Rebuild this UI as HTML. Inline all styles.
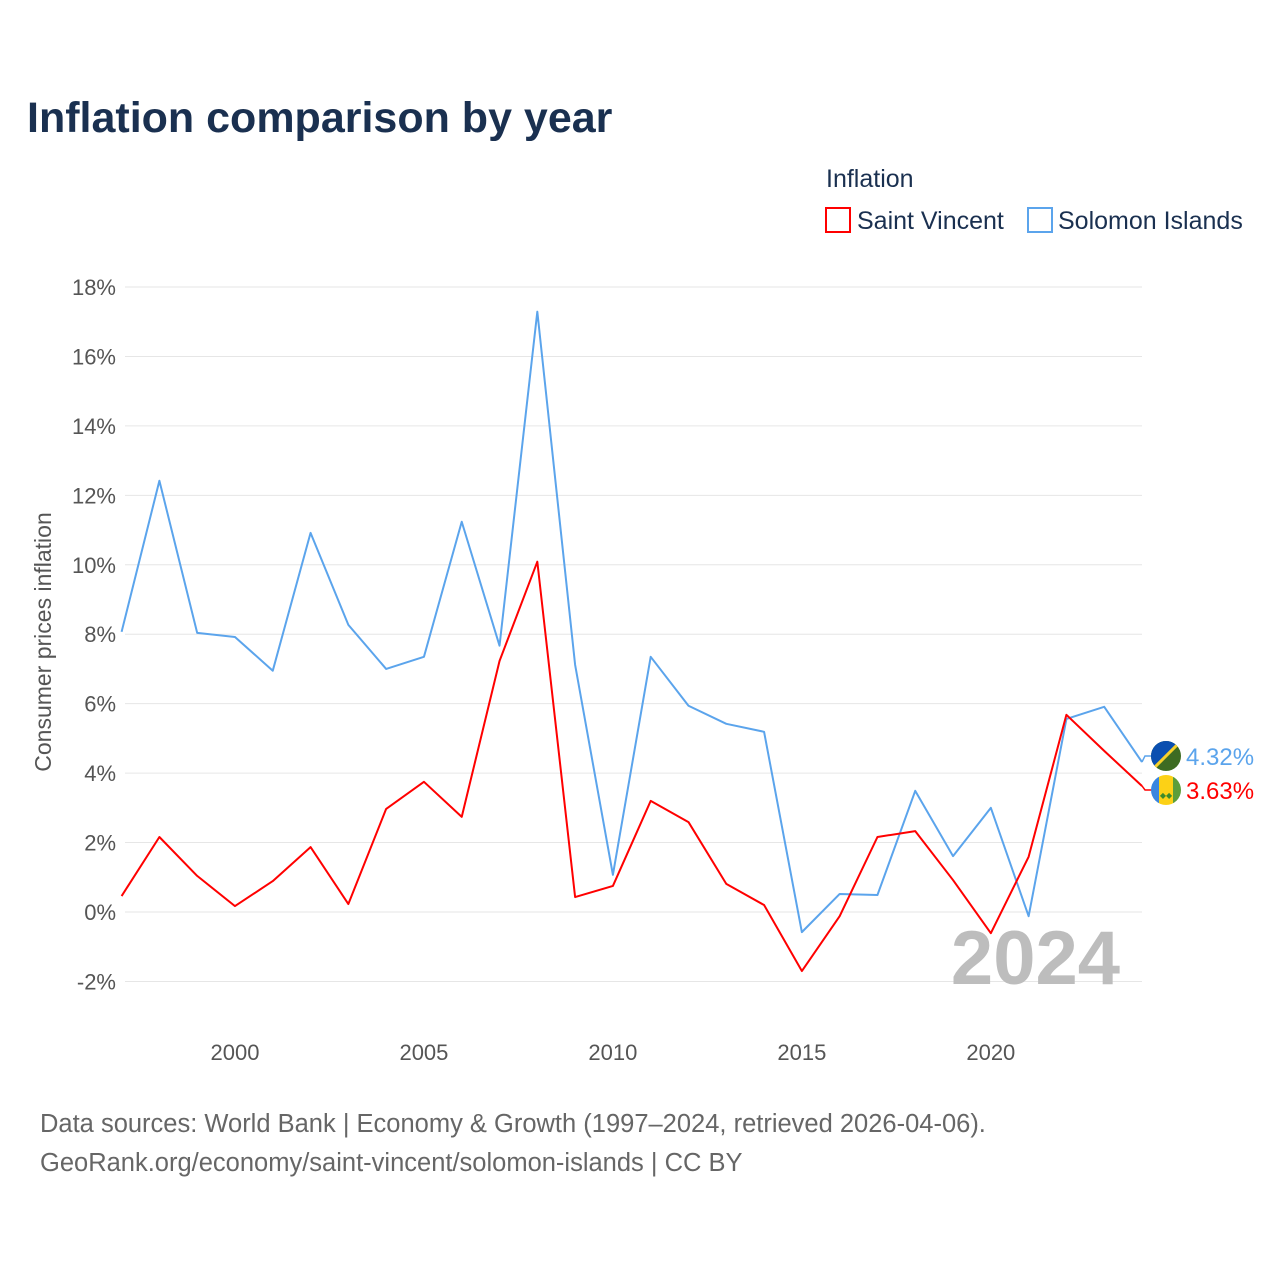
<!DOCTYPE html>
<html><head><meta charset="utf-8"><style>
body{margin:0;background:#fff;font-family:"Liberation Sans",sans-serif}
</style></head><body>
<svg width="1280" height="1280" xmlns="http://www.w3.org/2000/svg" id="svg">
<rect width="1280" height="1280" fill="#fff"/>
<text x="27" y="132" font-size="43" font-weight="bold" fill="#1a3050">Inflation comparison by year</text>
<text x="826" y="187" font-size="25" fill="#1a3050">Inflation</text>
<g><rect x="826" y="208" width="24" height="24" fill="none" stroke="#f00" stroke-width="2"/><text x="857" y="229" font-size="25" fill="#1a3050">Saint Vincent</text></g>
<g><rect x="1028" y="208" width="24" height="24" fill="none" stroke="#5ba4ec" stroke-width="2"/><text x="1058" y="229" font-size="25" fill="#1a3050">Solomon Islands</text></g>
<g id="grid"></g><g id="lines"></g>
<text x="1120" y="984" font-size="76" font-weight="bold" fill="#bdbdbd" text-anchor="end">2024</text>
<text transform="translate(51,642) rotate(-90)" font-size="23" fill="#555" text-anchor="middle">Consumer prices inflation</text>
<text x="40" y="1132" font-size="25.5" fill="#666">Data sources: World Bank | Economy &amp; Growth (1997–2024, retrieved 2026-04-06).</text>
<text x="40" y="1171" font-size="25.5" fill="#666">GeoRank.org/economy/saint-vincent/solomon-islands | CC BY</text>
</svg>
<script>
const years=[1997,1998,1999,2000,2001,2002,2003,2004,2005,2006,2007,2008,2009,2010,2011,2012,2013,2014,2015,2016,2017,2018,2019,2020,2021,2022,2023,2024];
const solomon=[8.07,12.42,8.04,7.92,6.95,10.92,8.27,7.0,7.35,11.24,7.67,17.29,7.12,1.07,7.35,5.94,5.42,5.19,-0.58,0.52,0.49,3.49,1.61,3.0,-0.12,5.56,5.91,4.32];
const vincent=[0.46,2.16,1.04,0.17,0.89,1.87,0.23,2.97,3.75,2.74,7.23,10.09,0.43,0.75,3.2,2.59,0.81,0.2,-1.7,-0.12,2.16,2.33,0.92,-0.61,1.59,5.68,4.64,3.63];
const yTicks=[-2,0,2,4,6,8,10,12,14,16,18];
const xTicks=[2000,2005,2010,2015,2020];
const NS="http://www.w3.org/2000/svg";
const X=y=>121.6+(y-1997)*(1142-121.6)/27;
const Y=v=>912-v*34.72;
function mk(t,a,p){const e=document.createElementNS(NS,t);for(const k in a)e.setAttribute(k,a[k]);p.appendChild(e);return e;}
const g=document.getElementById('grid'),L=document.getElementById('lines');
yTicks.forEach(v=>{
 const l=mk('line',{x1:125,x2:1142,y1:Y(v),y2:Y(v),stroke:'#e6e6e6','stroke-width':1},g);
 
 
 const t=mk('text',{x:116,y:Y(v)+8,'font-size':22,fill:'#555','text-anchor':'end'},g);t.textContent=v+'%';
 
 
});
xTicks.forEach(v=>{
 const t=mk('text',{x:X(v),y:1060,'font-size':22,fill:'#555','text-anchor':'middle'},g);t.textContent=v;
 
 
});
function line(d,c,n){
 const p=mk('polyline',{points:d.map((v,i)=>X(years[i])+','+Y(v)).join(' '),fill:'none',stroke:c,'stroke-width':2,'stroke-linejoin':'round'},L);
 
 
}
line(solomon,'#5ba4ec','solomon-islands-line');
line(vincent,'#f00','saint-vincent-line');
const ys=Y(solomon[27]),yv=Y(vincent[27]);
const fy=[yv-30,yv+4];
mk('polyline',{points:`${X(2024)},${ys} 1145,${fy[0]} 1152,${fy[0]}`,fill:'none',stroke:'#5ba4ec','stroke-width':1.5},L);
mk('polyline',{points:`${X(2024)},${yv} 1145,${fy[1]} 1152,${fy[1]}`,fill:'none',stroke:'#f00','stroke-width':1.5},L);
const cx=1166;
const f1=mk('g',{},L);
const cp1=mk('clipPath',{id:'c1'},f1);mk('circle',{cx:cx,cy:fy[0],r:15},cp1);
const g1=mk('g',{'clip-path':'url(#c1)'},f1);
mk('rect',{x:cx-15,y:fy[0]-15,width:30,height:30,fill:'#3d6b22'},g1);
mk('polygon',{points:`${cx-15},${fy[0]-15} ${cx+15},${fy[0]-15} ${cx-15},${fy[0]+15}`,fill:'#0a4fb0'},g1);
mk('line',{x1:cx-15,y1:fy[0]+15,x2:cx+15,y2:fy[0]-15,stroke:'#f7d12a','stroke-width':3},g1);
const t1=mk('text',{x:1186,y:fy[0]+9,'font-size':24,fill:'#5ba4ec'},L);t1.textContent=solomon[27].toFixed(2)+'%';


const f2=mk('g',{},L);
const cp=mk('clipPath',{id:'c2'},f2);mk('circle',{cx:cx,cy:fy[1],r:15},cp);
const g2=mk('g',{'clip-path':'url(#c2)'},f2);
mk('rect',{x:cx-15,y:fy[1]-15,width:8,height:30,fill:'#3a86e0'},g2);
mk('rect',{x:cx-7,y:fy[1]-15,width:14,height:30,fill:'#fcd116'},g2);
mk('rect',{x:cx+7,y:fy[1]-15,width:8,height:30,fill:'#5c9e3a'},g2);
mk('text',{x:cx,y:fy[1]+8,'font-size':8,fill:'#3d8a2a','text-anchor':'middle'},g2).textContent='◆◆';
const t2=mk('text',{x:1186,y:fy[1]+9,'font-size':24,fill:'#f00'},L);t2.textContent=vincent[27].toFixed(2)+'%';


</script>
</body></html>
